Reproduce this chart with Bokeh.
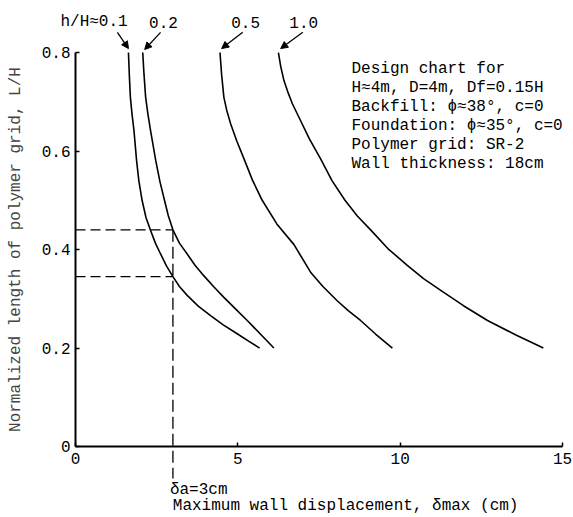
from bokeh.plotting import figure
from bokeh.models import Range1d, FixedTicker, Label, Arrow, NormalHead, ColumnDataSource
from bokeh.embed import file_html
from bokeh.resources import INLINE

FONT = "Liberation Mono"

# ---- data ----
c01_x = [1.63, 1.66, 1.69, 1.74, 1.80, 1.88, 1.95, 2.05, 2.17, 2.31, 2.46, 2.62, 2.80, 3.00, 3.20, 3.44, 3.78, 4.16, 4.55, 4.98, 5.33, 5.67]
c01_y = [0.80, 0.75, 0.709, 0.675, 0.642, 0.581, 0.540, 0.50, 0.465, 0.439, 0.413, 0.391, 0.367, 0.345, 0.325, 0.307, 0.285, 0.266, 0.247, 0.229, 0.214, 0.20]
c02_x = [2.07, 2.11, 2.16, 2.23, 2.31, 2.47, 2.60, 2.74, 2.86, 3.00, 3.20, 3.44, 3.68, 3.95, 4.25, 4.57, 4.92, 5.29, 5.70, 6.11]
c02_y = [0.80, 0.755, 0.709, 0.675, 0.642, 0.581, 0.538, 0.50, 0.468, 0.44, 0.413, 0.391, 0.368, 0.347, 0.325, 0.303, 0.280, 0.256, 0.228, 0.20]
c05_x = [4.45, 4.50, 4.57, 4.66, 4.78, 4.97, 5.19, 5.45, 5.75, 6.20, 6.73, 7.24, 7.62, 8.06, 8.40, 8.78, 9.25, 9.76]
c05_y = [0.80, 0.755, 0.709, 0.682, 0.655, 0.620, 0.584, 0.541, 0.50, 0.452, 0.41, 0.354, 0.325, 0.296, 0.276, 0.256, 0.228, 0.20]
c10_x = [6.25, 6.32, 6.42, 6.55, 6.68, 6.93, 7.20, 7.55, 7.90, 8.30, 8.68, 9.09, 9.62, 10.22, 10.72, 11.25, 11.95, 12.69, 13.55, 14.41]
c10_y = [0.80, 0.772, 0.743, 0.718, 0.696, 0.662, 0.625, 0.584, 0.540, 0.50, 0.468, 0.44, 0.402, 0.368, 0.341, 0.317, 0.286, 0.256, 0.227, 0.20]

curve_labels = ["h/H\u22480.1", "0.2", "0.5", "1.0"]
label_x = [0.57, 2.71, 5.24, 7.03]
label_y = [0.861, 0.861, 0.861, 0.861]
arrow_x0 = [1.29, 2.62, 5.15, 7.00]
arrow_y0 = [0.841, 0.841, 0.841, 0.841]
arrow_x1 = [1.63, 2.13, 4.50, 6.32]
arrow_y1 = [0.808, 0.806, 0.808, 0.808]

delta_a = 3.0
guide_levels = [0.44, 0.345]
guide_bottom = -0.065

x_ticks = [0, 5, 10, 15]
y_ticks = [0, 0.2, 0.4, 0.6, 0.8]
y_tick_labels = ["0", "0.2", "0.4", "0.6", "0.8"]

note_lines = [
    "Design chart for",
    "H\u22484m, D=4m, Df=0.15H",
    "Backfill: \u03d5\u224838\u00b0, c=0",
    "Foundation: \u03d5\u224835\u00b0, c=0",
    "Polymer grid: SR-2",
    "Wall thickness: 18cm",
]

x_title = "Maximum wall displacement, \u03b4max (cm)"
y_title = "Normalized length of polymer grid, L/H"
delta_label = "\u03b4a=3cm"

# ---- figure ----
p = figure(width=573, height=517, x_range=Range1d(-2.311, 15.339), y_range=Range1d(-0.144, 0.9056),
           output_backend="svg", toolbar_location=None,
           min_border_left=0, min_border_right=0, min_border_top=0, min_border_bottom=0)
p.outline_line_color = None
p.grid.visible = False
p.background_fill_color = "white"
p.border_fill_color = "white"

p.xaxis.fixed_location = 0
p.yaxis.fixed_location = 0
p.xaxis.bounds = (0, 15)
p.yaxis.bounds = (0, 0.8)

for ax in (p.xaxis, p.yaxis):
    ax.axis_line_width = 2
    ax.axis_line_color = "black"
    ax.major_tick_in = 4
    ax.major_tick_out = 0
    ax.minor_tick_line_color = None
    ax.major_tick_line_width = 1.5
    ax.major_label_text_font = FONT
    ax.major_label_text_font_size = "16px"
    ax.major_label_text_color = "black"

p.xaxis.ticker = FixedTicker(ticks=x_ticks)
p.yaxis.ticker = FixedTicker(ticks=y_ticks)
p.yaxis.major_label_overrides = {t: s for t, s in zip(y_ticks, y_tick_labels)}
p.xaxis.major_label_standoff = 6
p.yaxis.major_label_standoff = 5
p.yaxis.axis_label = y_title
p.yaxis.axis_label_text_font = FONT
p.yaxis.axis_label_text_font_size = "16px"
p.yaxis.axis_label_text_font_style = "normal"
p.yaxis.axis_label_standoff = 14

# curves
for xs, ys in [(c01_x, c01_y), (c02_x, c02_y), (c05_x, c05_y), (c10_x, c10_y)]:
    p.line(xs, ys, line_color="black", line_width=1.6)

# dashed guides
p.segment(x0=[0] * len(guide_levels), y0=guide_levels,
          x1=[delta_a] * len(guide_levels), y1=guide_levels,
          line_color="black", line_width=1.3, line_dash="10 5")
p.segment(x0=[delta_a], y0=[max(guide_levels)], x1=[delta_a], y1=[guide_bottom],
          line_color="black", line_width=1.3, line_dash="12 5")

# curve labels and arrows
for t, lx, ly in zip(curve_labels, label_x, label_y):
    p.add_layout(Label(x=lx, y=ly, text=t, text_align="center", text_baseline="middle",
                       text_font=FONT, text_font_size="16px", text_color="black"))
src = ColumnDataSource(dict(x0=arrow_x0, y0=arrow_y0, x1=arrow_x1, y1=arrow_y1))
p.add_layout(Arrow(end=NormalHead(size=7, fill_color="black", line_color="black", line_width=1),
                   x_start="x0", y_start="y0", x_end="x1", y_end="y1", source=src,
                   line_color="black", line_width=1.3))

# notes block
for i, line in enumerate(note_lines):
    p.add_layout(Label(x=8.5, y=0.7675, y_offset=-19 * i, text=line,
                       text_align="left", text_baseline="middle",
                       text_font=FONT, text_font_size="16px", text_color="black"))

# delta label and x title
p.add_layout(Label(x=delta_a, y=guide_bottom, x_offset=-3, y_offset=-11, text=delta_label,
                   text_align="left", text_baseline="middle",
                   text_font=FONT, text_font_size="16px", text_color="black"))
p.add_layout(Label(x=8.32, y=0, y_offset=-59, text=x_title,
                   text_align="center", text_baseline="middle",
                   text_font=FONT, text_font_size="16px", text_color="black"))

open("out.html", "w").write(file_html(p, INLINE))
